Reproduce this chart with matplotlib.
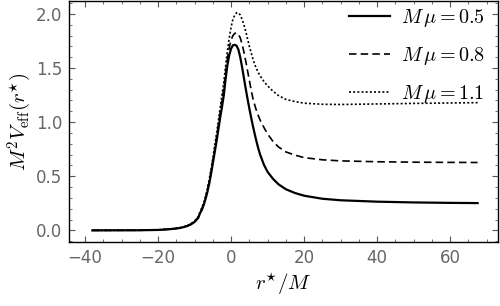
import matplotlib
matplotlib.use('Agg')
import matplotlib.pyplot as plt
from matplotlib.ticker import MultipleLocator

plt.rcParams['mathtext.fontset'] = 'cm'

# ---- data ----
r_star = [-38, -25, -20, -17, -15, -14, -13, -12, -11, -10, -9, -8.5, -8, -7.5, -7,
          -6.5, -6, -5.5, -5, -4.5, -4, -3.5, -3, -2.5, -2, -1.5, -1, -0.5, 0, 0.5,
          1, 1.5, 2, 2.5, 3, 3.5, 4, 4.5, 5, 5.5, 6, 6.5, 7, 7.5, 8, 9, 10, 11.5,
          13, 15, 17.5, 20, 25, 30, 40, 50, 60, 67.5]

v_05 = [0.0, 0.001, 0.004, 0.010, 0.017, 0.022, 0.030, 0.040, 0.055, 0.078, 0.115,
        0.16, 0.19, 0.235, 0.29, 0.355, 0.43, 0.52, 0.62, 0.72, 0.82, 0.93, 1.04,
        1.14, 1.25, 1.40, 1.53, 1.62, 1.68, 1.71, 1.715, 1.705, 1.67, 1.60, 1.51,
        1.41, 1.31, 1.215, 1.125, 1.04, 0.96, 0.885, 0.815, 0.75, 0.695, 0.605, 0.54,
        0.475, 0.425, 0.38, 0.345, 0.32, 0.292, 0.278, 0.265, 0.258, 0.254, 0.252]

v_08 = [0.0, 0.001, 0.004, 0.011, 0.018, 0.023, 0.031, 0.042, 0.058, 0.082, 0.12,
        0.165, 0.20, 0.245, 0.30, 0.37, 0.45, 0.54, 0.645, 0.75, 0.86, 0.97, 1.09,
        1.20, 1.31, 1.46, 1.59, 1.69, 1.76, 1.80, 1.82, 1.825, 1.81, 1.78, 1.72,
        1.65, 1.565, 1.475, 1.385, 1.295, 1.215, 1.155, 1.10, 1.055, 1.015, 0.95, 0.89,
        0.82, 0.77, 0.725, 0.695, 0.672, 0.652, 0.642, 0.634, 0.630, 0.628, 0.627]

v_11 = [0.0, 0.001, 0.005, 0.012, 0.020, 0.025, 0.033, 0.045, 0.062, 0.087, 0.127,
        0.172, 0.21, 0.255, 0.315, 0.385, 0.47, 0.565, 0.67, 0.78, 0.89, 1.01, 1.13,
        1.25, 1.37, 1.52, 1.66, 1.78, 1.88, 1.95, 1.99, 2.01, 2.01, 1.99, 1.95,
        1.90, 1.84, 1.77, 1.70, 1.64, 1.58, 1.53, 1.49, 1.455, 1.425, 1.375, 1.335,
        1.285, 1.245, 1.21, 1.19, 1.175, 1.165, 1.163, 1.168, 1.173, 1.177, 1.18]

labels = [r'$M\,\mu = 0.5$', r'$M\,\mu = 0.8$', r'$M\,\mu = 1.1$']

# ---- figure ----
fig = plt.figure(figsize=(5, 3.06), dpi=100)
ax = fig.add_axes([0.138, 0.209, 0.858, 0.788])

ax.plot(r_star, v_05, color='black', lw=1.6, label=labels[0])
ax.plot(r_star, v_08, color='black', lw=1.2, ls=(0, (4.5, 2.5)), label=labels[1])
ax.plot(r_star, v_11, color='black', lw=1.2, ls=(0, (1.2, 1.3)), label=labels[2])

ax.set_xlim(-44.4, 73.1)
ax.set_ylim(-0.108, 2.12)

ax.xaxis.set_major_locator(MultipleLocator(20))
ax.xaxis.set_minor_locator(MultipleLocator(5))
ax.yaxis.set_major_locator(MultipleLocator(0.5))
ax.yaxis.set_minor_locator(MultipleLocator(0.1))
ax.yaxis.set_major_formatter(plt.FuncFormatter(lambda v, p: '%.1f' % v))

ax.tick_params(which='both', direction='in', top=True, right=True,
               color='#555555', labelcolor='#666666', labelsize=12)
ax.tick_params(which='major', length=4.5, width=0.8, pad=5)
ax.tick_params(which='minor', length=2.5, width=0.6)
for s in ax.spines.values():
    s.set_linewidth(1.0)

ax.set_xlabel(r'$r^{\star}/M$', fontsize=15, labelpad=3)
ax.set_ylabel(r'$M^2V_{\mathrm{eff}}(r^{\star})$', fontsize=15, labelpad=1)

ax.legend(loc='upper right', bbox_to_anchor=(1.012, 1.05), frameon=False,
          fontsize=14.5, handlelength=2.0, handletextpad=0.55, labelspacing=0.8)

fig.savefig('out.png', dpi=100)
